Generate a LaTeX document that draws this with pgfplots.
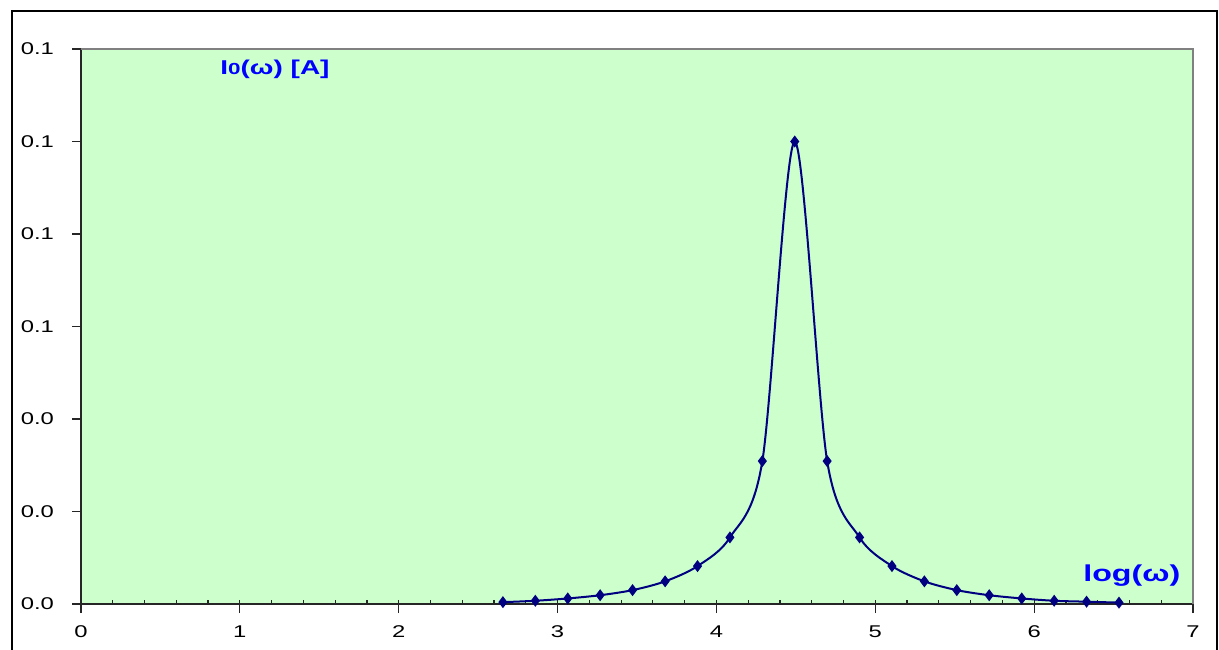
\documentclass[border=0pt]{standalone}
\usepackage{pgfplots}
\pgfplotsset{compat=1.18}
\usepackage{fontspec}
\setmainfont{Liberation Sans}[FakeStretch=1.4]
\definecolor{plotbg}{HTML}{CCFFCC}
\definecolor{curve}{HTML}{000080}
\definecolor{lbl}{HTML}{0000FF}

\begin{document}
\begin{tikzpicture}
% page = 1219 x 649 px at 0.5pt per px, axis origin at (81,604) px
\useasboundingbox (-40.5pt,-22.5pt) rectangle (569pt,302pt);
\draw[line width=0.75pt] (-34.5pt,-23pt) -- (-34.5pt,296.5pt) -- (568pt,296.5pt) -- (568pt,-23pt);
\begin{axis}[
    at={(0,0)}, anchor=south west,
    scale only axis,
    width=556pt, height=277.5pt,
    xmin=0, xmax=7, ymin=0, ymax=0.12,
    axis x line*=bottom, axis y line*=left,
    axis line style={black!85, line width=0.8pt},
    axis background/.style={fill=plotbg},
    xtick={0,1,...,7},
    minor xtick={0,0.2,...,7},
    ytick={0,0.02,...,0.12},
    tick align=outside,
    major tick length=4.5pt,
    minor tick length=2pt,
    minor tick style={yshift=2pt},
    tick style={black!85, line width=0.6pt},
    ticklabel style={font=\fontsize{8.5}{10}\selectfont},
    /pgf/number format/assume math mode=true,
    yticklabel style={xshift=-5.5pt, /pgf/number format/.cd, fixed, fixed zerofill, precision=1},
    xticklabel style={yshift=-3pt, /pgf/number format/.cd, fixed, precision=0},
    clip=false,
]
\draw[gray, line width=0.8pt] (rel axis cs:0,1) -- (rel axis cs:1,1) -- (rel axis cs:1,0);
\addplot[curve, line width=1pt, smooth, mark=diamond*, mark size=2.2pt,
    mark options={fill=curve}] coordinates {
(2.656,0.0004) (2.860,0.0007) (3.064,0.0012) (3.268,0.0019) (3.472,0.0030)
(3.677,0.0049) (3.881,0.0082) (4.085,0.0144) (4.289,0.0309) (4.493,0.1000)
(4.697,0.0309) (4.901,0.0144) (5.105,0.0082) (5.309,0.0049) (5.513,0.0030)
(5.717,0.0019) (5.922,0.0012) (6.126,0.0007) (6.330,0.0005) (6.534,0.0003)
};
\node[anchor=west, inner sep=0pt, text=lbl, font=\bfseries\fontsize{10}{12}\selectfont]
    at (axis cs:0.875,0.1157) {I{\fontsize{8}{10}\selectfont 0}(ω) [A]};
\node[anchor=west, inner sep=0pt, text=lbl, font=\bfseries\fontsize{11.5}{13}\selectfont]
    at (axis cs:6.307,0.0061) {log(ω)};
\end{axis}
\end{tikzpicture}
\end{document}
